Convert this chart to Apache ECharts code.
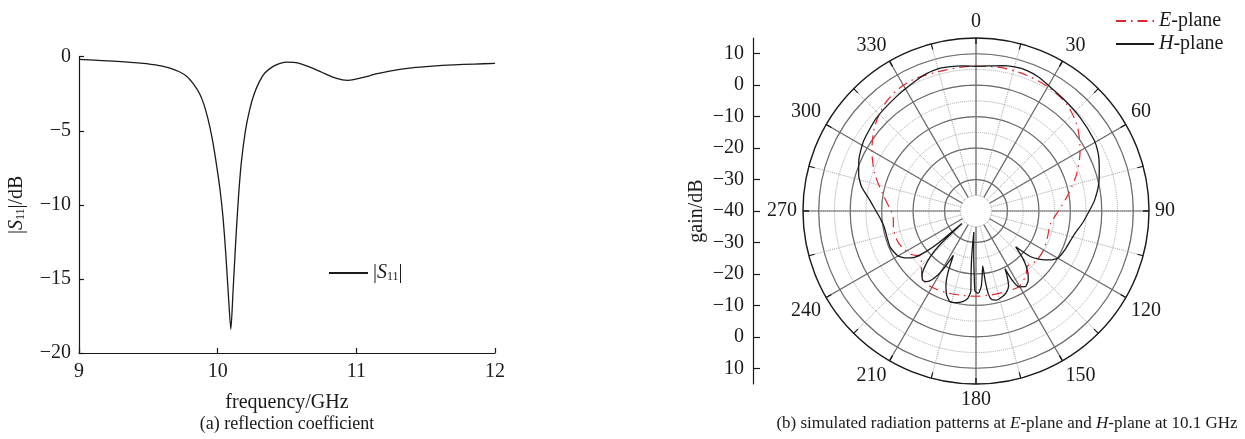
<!DOCTYPE html>
<html><head><meta charset="utf-8">
<script src="https://cdn.jsdelivr.net/npm/echarts@6/dist/echarts.min.js"></script>
<style>html,body{margin:0;padding:0;background:#fff}#c{width:1245px;height:439px}</style>
</head><body><div id="c"></div>
<script>
// ---- panel (a): reflection coefficient ----
const freqGHz = [9.00,9.20,9.40,9.55,9.65,9.72,9.78,9.83,9.87,9.90,9.93,9.96,9.99,10.02,10.04,10.06,10.08,10.095,10.11,10.13,10.15,10.17,10.20,10.23,10.26,10.30,10.34,10.40,10.45,10.50,10.55,10.60,10.67,10.75,10.83,10.90,10.94,10.98,11.05,11.15,11.25,11.40,11.55,11.70,11.85,12.00];
const s11dB   = [-0.18,-0.28,-0.40,-0.55,-0.75,-1.0,-1.35,-1.9,-2.5,-3.2,-4.2,-5.5,-7.2,-9.2,-11.0,-13.5,-16.5,-18.4,-16.0,-12.5,-9.5,-7.2,-5.0,-3.6,-2.6,-1.7,-1.1,-0.65,-0.45,-0.36,-0.38,-0.48,-0.72,-1.05,-1.38,-1.57,-1.6,-1.55,-1.4,-1.15,-0.95,-0.75,-0.63,-0.55,-0.5,-0.45];
const freqTicks = [9,10,11,12];
const s11Ticks = [0,-5,-10,-15,-20];

// ---- panel (b): radiation patterns (angle in degrees, gain in dB) ----
const hAngle = [0,5,10,15,20,25,30,38,48,59,65,70,77,85,90,96,104,114,120,123.5,127,130,132,134,136.5,140,143,147,150.5,152.5,153.3,154.5,156.5,160,163.5,167,170,171.5,172.5,173,174.5,176,178.5,180.7,181.5,183,186,185.5,184.5,183.7,185.5,188,192,196,199.5,202,204.5,207,209.5,212,215,217.5,220,222.5,225,227,228.5,229.5,231,233,236,240,247,254,260,265,270,276,282,287,293,302,313,325,335,340,345,350,355,360];
const hGain  = [6.0,6.3,6.9,7.4,7.5,7.0,6.1,5.2,4.5,3.8,2.9,1.7,0.1,-2.2,-4.0,-5.8,-8.0,-9.2,-10.0,-11.8,-14.5,-17.5,-23.0,-20.5,-17.5,-14.3,-12.4,-11.3,-12.3,-15.5,-19.5,-17.0,-14.0,-12.2,-11.4,-10.9,-11.4,-13.2,-17.5,-22.4,-19.5,-16.0,-13.8,-14.5,-19.0,-26.0,-33.3,-26.0,-20.0,-14.5,-12.0,-11.0,-10.2,-10.0,-11.9,-14.5,-18.5,-24.2,-18.5,-14.8,-12.6,-12.2,-13.3,-15.8,-19.5,-24.5,-34.0,-25.0,-19.5,-15.5,-13.3,-11.4,-10.4,-10.5,-10.4,-9.6,-8.2,-6.0,-2.8,-1.0,0.5,2.1,3.3,4.3,5.6,6.4,6.8,6.6,6.3,6.0];
const eAngle = [0,10,20,30,40,50,60,70,80,90,100,110,120,130,137,142,150,160,170,180,190,200,210,217,224,230,236,244,250,258,266,272,280,290,300,310,320,328,335,345,355,360];
const eGain  = [6.1,6.3,6.1,5.6,4.6,2.0,-1.8,-6.0,-10.3,-13.8,-16.0,-15.8,-15.2,-15.2,-16.0,-14.2,-12.4,-12.7,-12.9,-12.9,-12.8,-12.4,-12.0,-12.3,-15.0,-17.3,-15.3,-13.8,-13.2,-13.2,-13.6,-12.5,-10.0,-5.8,-1.8,2.0,4.8,6.0,6.3,5.9,6.0,6.1];
const angleTicks = [0,30,60,90,120,150,180,210,240,270,300,330];
const gainTicks = [10,0,-10,-20,-30,-40];

const FONT = '"Liberation Serif", "Times New Roman", serif';
const INK = '#1a1a1a';
const GRID = '#6c6c6c';
const DOT = '#a4a4a4';
const minus = s => String(s).replace('-', '\u2212');

const C = [976, 211], R = 173, R0 = 15.7;
const R10 = R * 50 / 55;

const chart = echarts.init(document.getElementById('c'), null, {renderer: 'canvas'});
const richS = {
  i: {fontStyle: 'italic', fontFamily: FONT, fontSize: 20, color: INK},
  sub: {fontFamily: FONT, fontSize: 12, color: INK, verticalAlign: 'bottom', lineHeight: 8}
};
const hidden = {axisLine: {show: false}, axisTick: {show: false}, axisLabel: {show: false}, splitLine: {show: false}};
const option = {
  backgroundColor: '#fff',
  animation: false,
  grid: [
    {left: 79, top: 56.7, width: 416, height: 296.3, show: false},
    {left: 753, top: C[1] - R, width: 10, height: 2 * R, show: false}
  ],
  xAxis: [
    {gridIndex: 0, type: 'value', min: 9, max: 12, interval: 1,
     name: 'frequency/GHz', nameLocation: 'middle', nameGap: 40,
     nameTextStyle: {fontFamily: FONT, fontSize: 20, color: INK},
     axisLine: {onZero: false, lineStyle: {color: INK, width: 1.2}},
     axisTick: {inside: true, length: 5, lineStyle: {color: INK, width: 1.2}},
     axisLabel: {fontFamily: FONT, fontSize: 20, color: INK, margin: 9,
       formatter: v => freqTicks.includes(v) ? String(v) : ''},
     splitLine: {show: false}},
    {gridIndex: 1, type: 'value', show: false, min: 0, max: 1}
  ],
  yAxis: [
    {gridIndex: 0, type: 'value', min: -20, max: 0, interval: 5,
     name: '|{i|S}{sub|11}|/dB', nameLocation: 'middle', nameGap: 52,
     nameTextStyle: {fontFamily: FONT, fontSize: 20, color: INK, rich: richS},
     axisLine: {onZero: false, lineStyle: {color: INK, width: 1.2}},
     axisTick: {inside: true, length: 5, lineStyle: {color: INK, width: 1.2}},
     axisLabel: {fontFamily: FONT, fontSize: 20, color: INK, margin: 8,
       formatter: v => s11Ticks.includes(v) ? minus(v) : ''},
     splitLine: {show: false}},
    {gridIndex: 1, type: 'value', min: -55, max: 55,
     name: 'gain/dB', nameLocation: 'middle', nameGap: 46,
     nameTextStyle: {fontFamily: FONT, fontSize: 20, color: INK},
     axisLine: {onZero: false, lineStyle: {color: INK, width: 1.2}},
     axisTick: {inside: true, length: 7, lineStyle: {color: INK, width: 1.2},
       customValues: [-50,-40,-30,-20,-10,0,10,20,30,40,50]},
     axisLabel: {fontFamily: FONT, fontSize: 20, color: INK, margin: 9,
       customValues: [-50,-40,-30,-20,-10,0,10,20,30,40,50],
       formatter: v => { const g = gainTicks[gainTicks.length - 1] + Math.abs(v); return minus(g); }},
     splitLine: {show: false}}
  ],
  polar: [
    {center: C, radius: [R0, R]},
    {center: C, radius: [0, R10]},
    {center: C, radius: [R0, R]},
    {center: C, radius: [0, R]}
  ],
  angleAxis: [
    {polarIndex: 0, type: 'value', min: 0, max: 360, interval: 15, startAngle: 90, clockwise: true,
     axisLine: {show: false}, axisTick: {show: false}, axisLabel: {show: false},
     splitLine: {show: true, lineStyle: {type: 'dotted', color: DOT, width: 1}}},
    Object.assign({polarIndex: 1, type: 'value', min: 0, max: 360, interval: 30, startAngle: 90, clockwise: true}, hidden),
    {polarIndex: 2, type: 'value', min: 0, max: 360, interval: 30, startAngle: 90, clockwise: true,
     axisLine: {show: false}, axisTick: {show: false}, axisLabel: {show: false},
     splitLine: {show: true, lineStyle: {color: GRID, width: 1.2}}},
    {polarIndex: 3, type: 'value', min: 0, max: 360, interval: 30, startAngle: 90, clockwise: true,
     axisLine: {show: true, lineStyle: {color: INK, width: 1.4}},
     axisTick: {show: true, inside: true, length: 6, lineStyle: {color: INK, width: 1.4}},
     minorTick: {show: true, splitNumber: 2, length: 6, lineStyle: {color: INK, width: 1.2}},
     axisLabel: {show: true, fontFamily: FONT, fontSize: 20, color: INK, margin: 6,
       formatter: v => angleTicks.includes(v) ? String(v) : ''},
     splitLine: {show: false}}
  ],
  radiusAxis: [
    {polarIndex: 0, type: 'value', min: -35, max: 15, interval: 5,
     axisLine: {show: false}, axisTick: {show: false}, axisLabel: {show: false},
     splitLine: {show: true, lineStyle: {type: 'dotted', color: DOT, width: 1}}},
    {polarIndex: 1, type: 'value', min: -40, max: 10, interval: 10,
     axisLine: {show: false}, axisTick: {show: false}, axisLabel: {show: false},
     splitLine: {show: true, lineStyle: {color: GRID, width: 1.2}}},
    Object.assign({polarIndex: 2, type: 'value', min: -35, max: 15}, hidden),
    Object.assign({polarIndex: 3, type: 'value', min: -40, max: 15}, hidden)
  ],
  legend: [
    {data: ['S11'], left: 328, top: 263, padding: 0, itemWidth: 39, itemHeight: 14, itemGap: 8,
     itemStyle: {opacity: 0},
     formatter: () => '|{i|S}{sub|11}|',
     textStyle: {fontFamily: FONT, fontSize: 20, color: INK, rich: richS}},
    {data: ['E-plane', 'H-plane'], orient: 'vertical', left: 1115, top: 11, padding: 0,
     itemWidth: 38, itemHeight: 14, itemGap: 3,
     itemStyle: {opacity: 0},
     formatter: n => n === 'E-plane' ? '{i|E}-plane' : '{i|H}-plane',
     textStyle: {fontFamily: FONT, fontSize: 20, color: INK, rich: richS}}
  ],
  series: [
    {name: 'S11', type: 'line', xAxisIndex: 0, yAxisIndex: 0, symbol: 'none', smooth: 0.25,
     lineStyle: {color: INK, width: 1.3}, itemStyle: {color: INK},
     data: freqGHz.map((f, i) => [f, s11dB[i]])},
    {name: 'E-plane', type: 'line', coordinateSystem: 'polar', polarIndex: 1, symbol: 'none', smooth: 0.3,
     lineStyle: {color: '#e0262b', width: 1.2, type: [10, 5, 1.5, 5]}, itemStyle: {color: '#e0262b'},
     data: eAngle.map((a, i) => [eGain[i], a]), z: 3},
    {name: 'H-plane', type: 'line', coordinateSystem: 'polar', polarIndex: 1, symbol: 'none', smooth: 0.2,
     lineStyle: {color: INK, width: 1.3}, itemStyle: {color: INK},
     data: hAngle.map((a, i) => [hGain[i], a]), z: 4}
  ],
  graphic: [
    {type: 'text', x: 287, y: 424, style: {text: '(a) reflection coefficient', fontFamily: FONT, fontSize: 18,
      fill: INK, textAlign: 'center', textVerticalAlign: 'middle'}},
    {type: 'text', x: 1007, y: 424, style: {text: '(b) simulated radiation patterns at {i|E}-plane and {i|H}-plane at 10.1 GHz',
      fontFamily: FONT, fontSize: 17, fill: INK, textAlign: 'center', textVerticalAlign: 'middle',
      rich: {i: {fontStyle: 'italic', fontFamily: FONT, fontSize: 17, color: INK}}}}
  ]
};
chart.setOption(option);
</script></body></html>
